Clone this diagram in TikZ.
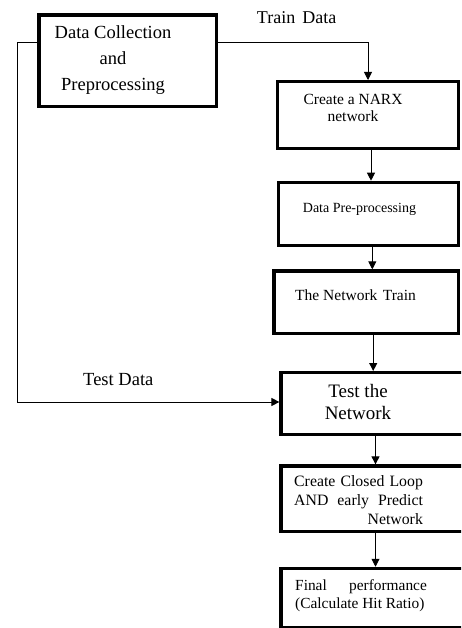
\documentclass[tikz,border=0pt]{standalone}
\usepackage{fontspec}
\setmainfont{Liberation Serif}
\usetikzlibrary{arrows.meta}

\begin{document}
\begin{tikzpicture}[x=1pt, y=-1pt,
	box/.style={draw, line width=3.2pt, inner sep=0pt},
	flow/.style={draw, line width=0.9pt, -{Triangle[length=8pt, width=8pt]}},
	txt/.style={inner sep=0pt}]
	\useasboundingbox (0,0) rectangle (461,628);
	\clip (0,0) rectangle (461,628);
	
	\node[box, minimum width=177.7pt, minimum height=91.7pt] (collect) at (127.8,60.8) {};
	\node[box, minimum width=180.8pt, minimum height=66.8pt] (narx) at (368,115) {};
	\node[box, minimum width=180pt, minimum height=63.4pt] (prep) at (368.3,214) {};
	\node[box, minimum width=184.5pt, minimum height=62.5pt] (train) at (366.2,302.2) {};
	\node[box, minimum width=189pt, minimum height=61.8pt] (testnet) at (375.5,403.5) {};
	\node[box, minimum width=189pt, minimum height=65.7pt] (closedloop) at (375.5,498.8) {};
	\node[box, minimum width=189pt, minimum height=59.7pt] (final) at (375.5,598.2) {};
	
	\node[txt, anchor=north, align=center, font=\fontsize{18.5}{26}\selectfont] (collecttext) at (113,25.7) {Data Collection\\and\\Preprocessing};
	\node[txt, anchor=north, align=center, font=\fontsize{15.5}{17.7}\selectfont] (narxtext) at (353,93.6) {Create a NARX\\network};
	\node[txt, anchor=base west, font=\fontsize{14}{14}\selectfont] (preptext) at (302.7,212.3) {Data Pre-processing};
	\node[txt, anchor=base west, font=\fontsize{15.5}{15.5}\selectfont] (traintext) at (295,300) {The Network\hspace{0.35em}Train};
	\node[txt, anchor=north, align=center, font=\fontsize{19}{22.7}\selectfont] (testnettext) at (358,383.7) {Test the\\Network};
	\node[txt, anchor=north west, align=left, font=\fontsize{15.8}{18.7}\selectfont] (closedlooptext) at (294,475.8) {\makebox[128.7pt][s]{Create Closed Loop}\\\makebox[128.7pt][s]{AND early Predict}\\\makebox[128.7pt][r]{Network}};
	\node[txt, anchor=north west, align=left, font=\fontsize{15.4}{18.3}\selectfont] (finaltext) at (295,579.4) {\makebox[131.7pt][s]{Final performance}\\(Calculate Hit Ratio)};
	
	\node[txt, anchor=base, font=\fontsize{18}{18}\selectfont] (trainlabel) at (296.7,23.3) {Train\hspace{0.4em}Data};
	\node[txt, anchor=base, font=\fontsize{18.5}{18.5}\selectfont] (testlabel) at (118.3,385) {Test Data};
	
	\coordinate (testcorner) at (17,402);
	\draw[flow] ([yshift=18pt]collect.east) -| (narx.north);
	\draw[flow] ([xshift=3pt]narx.south) -- ([xshift=3pt]narx.south |- prep.north);
	\draw[flow] ([xshift=4pt]prep.south) -- ([xshift=4pt]prep.south |- train.north);
	\draw[flow] ([xshift=7pt]train.south) -- ([xshift=7pt]train.south |- testnet.north);
	\draw[flow] (testnet.south) -- (closedloop.north);
	\draw[flow] (closedloop.south) -- (final.north);
	\draw[flow] ([yshift=18pt]collect.west) -| (testcorner) -- (testcorner -| testnet.west);
\end{tikzpicture}
\end{document}
